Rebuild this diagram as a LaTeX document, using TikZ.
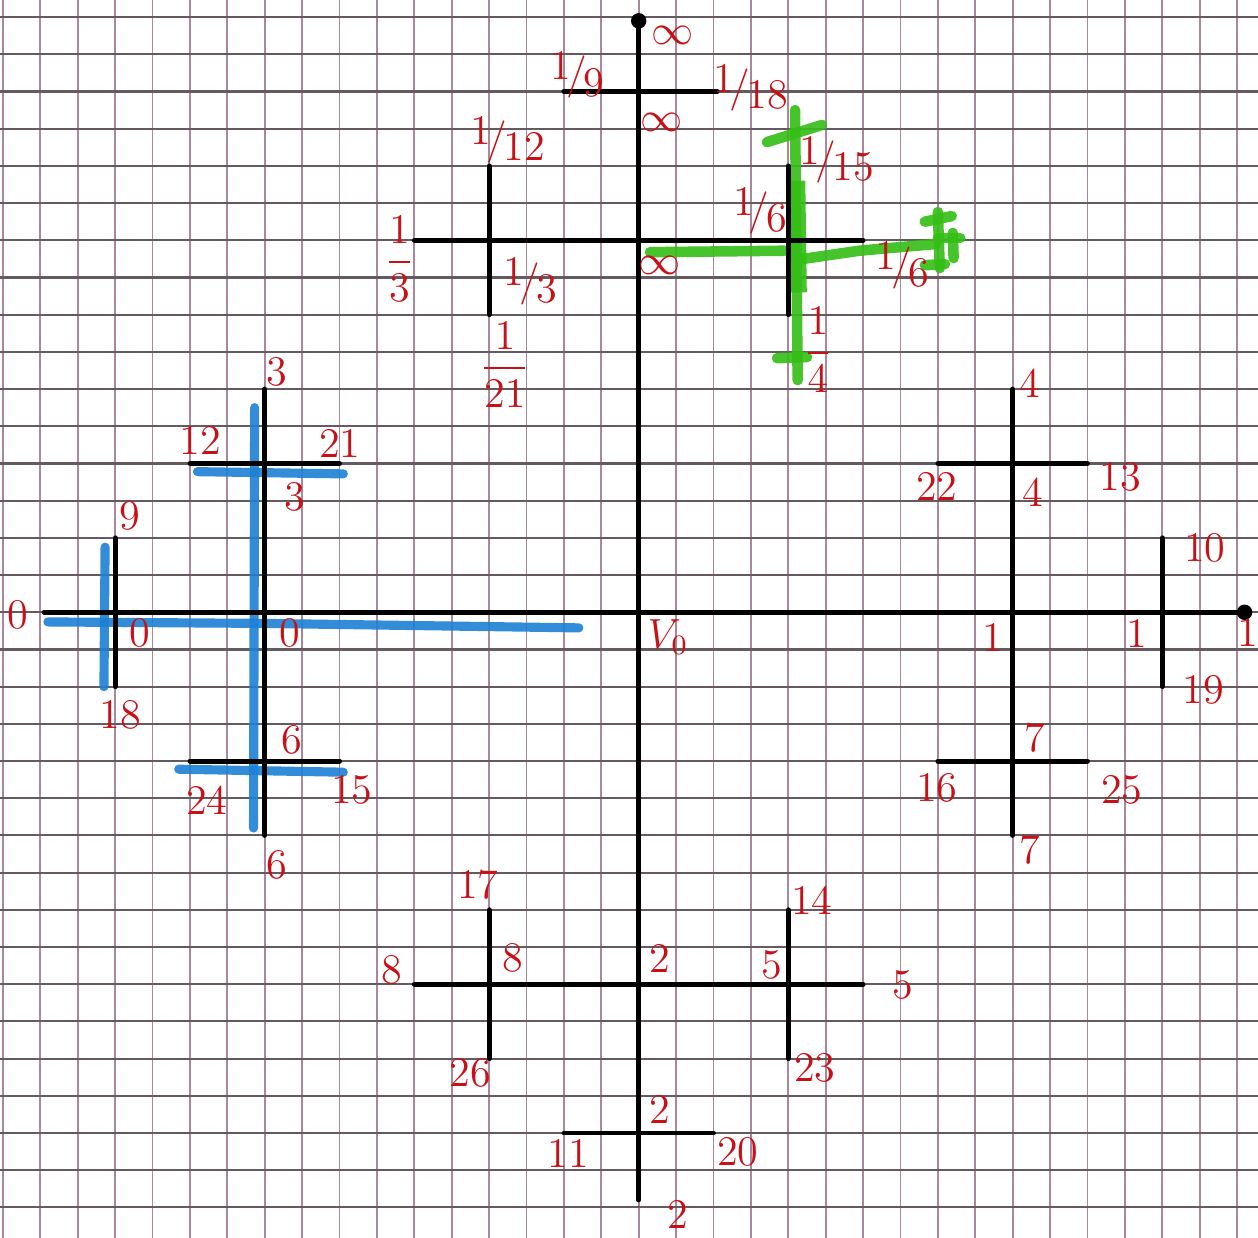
\documentclass[tikz,border=0pt]{standalone}
\usepackage{amsmath,amssymb}
\usepackage{xcolor}
\usepackage{tikz}

\definecolor{ink}{RGB}{200,16,22}
\definecolor{bluepen}{RGB}{28,128,212}
\definecolor{greenpen}{RGB}{52,190,22}
\definecolor{gridv}{RGB}{170,135,155}
\definecolor{gridh}{RGB}{100,90,95}

\newcommand{\sfr}[2]{\raisebox{.45ex}{#1}\kern-.12em/\kern-.08em\raisebox{-.45ex}{#2}}
\newcommand{\vfr}[2]{$\dfrac{#1}{#2}$}

\begin{document}
\begin{tikzpicture}[x=0.374cm,y=0.372cm]
\tikzstyle{axis} = [line width=1.4pt, line cap=round, black]
\tikzstyle{lbl} = [text=ink, font=\large, inner sep=1pt]
\tikzstyle{bluemark} = [line width=2.6pt, line cap=round, bluepen, opacity=0.9]
\tikzstyle{greenmark} = [line width=3pt, line cap=round, greenpen, opacity=0.9]

\useasboundingbox (-17.08,-16.82) rectangle (16.56,16.46);
\fill[white] (-17.08,-16.82) rectangle (16.56,16.46);

% squared paper
\foreach \gx in {-17,...,16} \draw[gridv, line width=0.5pt] (\gx,-16.82) -- (\gx,16.46);
\foreach \gy in {-16,...,16} \draw[gridh, line width=0.6pt] (-17.08,\gy) -- (16.56,\gy);

% end points of the tree
\coordinate (top) at (0,15.9);
\coordinate (bot) at (0,-15.8);
\coordinate (west) at (-15.9,0);
\coordinate (east) at (16.2,0);
\coordinate (n1w) at (-2,14);  \coordinate (n1e) at (2.1,14);
\coordinate (n2w) at (-6,10);  \coordinate (n2e) at (6,10);
\coordinate (n3n) at (-4,12);  \coordinate (n3s) at (-4,8);
\coordinate (n4n) at (4,12);   \coordinate (n4s) at (4,8);
\coordinate (w1n) at (-10,6);  \coordinate (w1s) at (-10,-6);
\coordinate (w2w) at (-12,4);  \coordinate (w2e) at (-8,4);
\coordinate (w3w) at (-12,-4); \coordinate (w3e) at (-8,-4);
\coordinate (w4n) at (-14,2);  \coordinate (w4s) at (-14,-2);
\coordinate (e1n) at (10,6);   \coordinate (e1s) at (10,-6);
\coordinate (e2w) at (8,4);    \coordinate (e2e) at (12,4);
\coordinate (e3w) at (8,-4);   \coordinate (e3e) at (12,-4);
\coordinate (e4n) at (14,2);   \coordinate (e4s) at (14,-2);
\coordinate (s1w) at (-6,-10); \coordinate (s1e) at (6,-10);
\coordinate (s2n) at (-4,-8);  \coordinate (s2s) at (-4,-12);
\coordinate (s3n) at (4,-8);   \coordinate (s3s) at (4,-12);
\coordinate (s4w) at (-2,-14); \coordinate (s4e) at (2,-14);

% blue pen
\draw[bluemark] (-15.8,-0.26) -- (-10,-0.3) -- (-1.6,-0.42);
\draw[bluemark] (-10.27,5.5) -- (-10.3,-5.8);
\draw[bluemark] (-11.8,3.78) -- (-7.9,3.72);
\draw[bluemark] (-12.3,-4.22) -- (-7.9,-4.3);
\draw[bluemark] (-14.27,1.75) -- (-14.3,-2.0);

% green pen
\draw[greenmark] (0.3,9.68) -- (3.9,9.72);
\draw[greenmark] (4.4,9.5) -- (5.9,9.72) -- (7.95,9.9);
\draw[greenmark] (4.18,13.5) -- (4.25,6.24);
\draw[greenmark, line width=5pt, line cap=butt] (4.22,11.6) -- (4.26,8.6);
\draw[greenmark] (3.43,12.64) -- (4.9,13.1);
\draw[greenmark] (3.7,6.83) -- (4.5,6.86);
\draw[greenmark] (8.0,10.76) -- (8.05,9.25);
\draw[greenmark] (7.65,10.5) -- (8.37,10.65);
\draw[greenmark] (7.65,9.33) -- (8.19,9.36);
\draw[greenmark] (8.4,10.2) -- (8.42,9.52);
\draw[greenmark] (8.0,10.06) -- (8.6,10.06);

% black tree
\draw[axis] (top) -- (bot);
\draw[axis] (west) -- (east);
\draw[axis] (n1w) -- (n1e);
\draw[axis] (n2w) -- (n2e);
\draw[axis] (n3n) -- (n3s);
\draw[axis] (n4n) -- (n4s);
\draw[axis] (w1n) -- (w1s);
\draw[axis] (w2w) -- (w2e);
\draw[axis] (w3w) -- (w3e);
\draw[axis] (w4n) -- (w4s);
\draw[axis] (e1n) -- (e1s);
\draw[axis] (e2w) -- (e2e);
\draw[axis] (e3w) -- (e3e);
\draw[axis] (e4n) -- (e4s);
\draw[axis] (s1w) -- (s1e);
\draw[axis] (s2n) -- (s2s);
\draw[axis] (s3n) -- (s3s);
\draw[axis] (s4w) -- (s4e);
\fill (top) circle (2.2pt);
\fill (east) circle (2.2pt);

% labels, top
\node[lbl] (lInfTop) at (0.9,15.5) {$\infty$};
\node[lbl] (lNine) at (-1.63,14.44) {\sfr{1}{9}};
\node[lbl] (lEighteen) at (3.0,14.1) {\sfr{1}{18}};
\node[lbl] (lInfA) at (0.62,13.18) {$\infty$};
\node[lbl] (lTwelve) at (-3.5,12.7) {\sfr{1}{12}};
\node[lbl] (lThirdL) at (-6.4,9.5) {\vfr{1}{3}};
\node[lbl] (lThirdR) at (-2.9,8.9) {\sfr{1}{3}};
\node[lbl] (lTwentyOne) at (-3.58,6.65) {\vfr{1}{21}};
\node[lbl] (lInfB) at (0.57,9.33) {$\infty$};
\node[lbl] (lFifteen) at (5.3,12.16) {\sfr{1}{15}};
\node[lbl] (lSixA) at (3.24,10.8) {\sfr{1}{6}};
\node[lbl] (lSixB) at (7.06,9.33) {\sfr{1}{6}};
\node[lbl] (lFour) at (4.79,7.05) {\vfr{1}{4}};

% labels, left
\node[lbl] (lW3a) at (-9.67,6.46) {3};
\node[lbl] (lW12) at (-11.73,4.63) {12};
\node[lbl] (lW21) at (-7.99,4.55) {21};
\node[lbl] (lW3b) at (-9.2,3.1) {3};
\node[lbl] (lW9) at (-13.6,2.6) {9};
\node[lbl] (lW0a) at (-16.6,-0.08) {0};
\node[lbl] (lW0b) at (-13.33,-0.55) {0};
\node[lbl] (lW0c) at (-9.33,-0.55) {0};
\node[lbl] (lW18) at (-13.87,-2.76) {18};
\node[lbl] (lW6a) at (-9.27,-3.44) {6};
\node[lbl] (lW24) at (-11.55,-5.05) {24};
\node[lbl] (lW15) at (-7.67,-4.78) {15};
\node[lbl] (lW6b) at (-9.67,-6.8) {6};

% labels, right
\node[lbl] (lE4a) at (10.46,6.16) {4};
\node[lbl] (lE22) at (7.97,3.37) {22};
\node[lbl] (lE4b) at (10.54,3.23) {4};
\node[lbl] (lE13) at (12.87,3.63) {13};
\node[lbl] (lE10) at (15.14,1.73) {10};
\node[lbl] (lE1a) at (9.47,-0.67) {1};
\node[lbl] (lE1b) at (13.32,-0.56) {1};
\node[lbl] (lE1c) at (16.3,-0.55) {1};
\node[lbl] (lE19) at (15.09,-2.09) {19};
\node[lbl] (lE7a) at (10.59,-3.38) {7};
\node[lbl] (lE16) at (7.97,-4.73) {16};
\node[lbl] (lE25) at (12.92,-4.78) {25};
\node[lbl] (lE7b) at (10.46,-6.39) {7};

% labels, centre and bottom
\node[lbl] (lVo) at (0.78,-0.67) {$V_0$};
\node[lbl] (lS17) at (-4.3,-7.33) {17};
\node[lbl] (lS8a) at (-6.6,-9.62) {8};
\node[lbl] (lS8b) at (-3.36,-9.3) {8};
\node[lbl] (lS2a) at (0.57,-9.3) {2};
\node[lbl] (lS5a) at (3.56,-9.48) {5};
\node[lbl] (lS14) at (4.63,-7.74) {14};
\node[lbl] (lS5b) at (7.06,-10.02) {5};
\node[lbl] (lS26) at (-4.51,-12.39) {26};
\node[lbl] (lS23) at (4.71,-12.25) {23};
\node[lbl] (lS2b) at (0.57,-13.38) {2};
\node[lbl] (lS11) at (-1.89,-14.54) {11};
\node[lbl] (lS20) at (2.65,-14.51) {20};
\node[lbl] (lS2c) at (1.05,-16.2) {2};

\end{tikzpicture}
\end{document}
